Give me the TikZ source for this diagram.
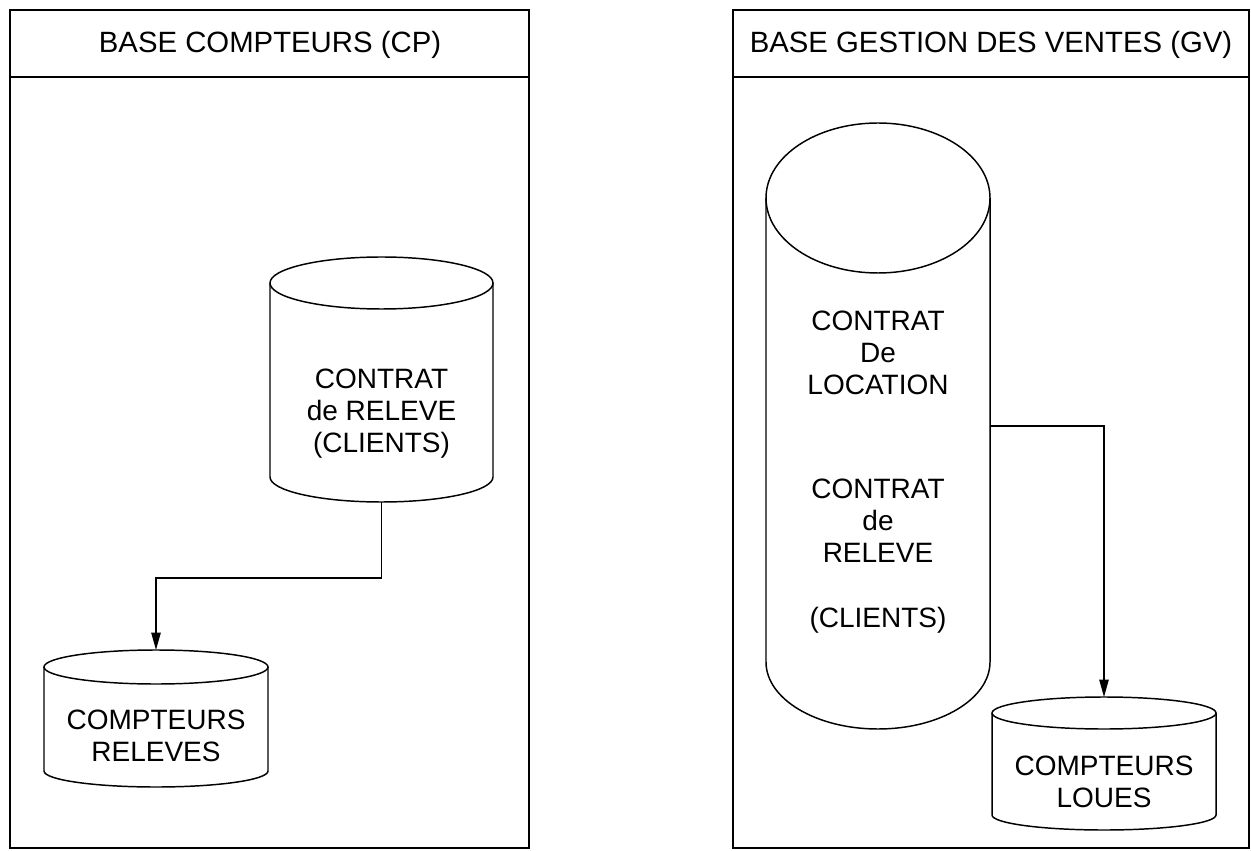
\documentclass[tikz,border=0pt]{standalone}
\usepackage{fontspec}
\setmainfont{Liberation Sans}
\usetikzlibrary{arrows.meta,fit}

% Database cylinder drawn round a fitted node:
% #1 node name, #2 x radius, #3 top cap y radius, #4 bottom cap y radius
\newcommand\dbshape[4]{%
  \draw ([yshift=-#3*0.75pt]#1.north) ellipse [x radius=#2, y radius=#3];
  \draw ([yshift=-#3*0.75pt]#1.north west) -- ([yshift=#4*0.75pt]#1.south west)
    arc [start angle=180, end angle=360, x radius=#2, y radius=#4]
    -- ([yshift=-#3*0.75pt]#1.north east);
}

\begin{document}
\begin{tikzpicture}[x=0.75pt, y=0.75pt, line width=1.1pt,
  panel/.style={draw, line width=1.1pt},
  dbbox/.style={inner sep=0pt, outer sep=0pt},
  title/.style={font=\fontsize{22}{26}\selectfont, inner sep=0pt},
  dblabel/.style={font=\fontsize{21}{24}\selectfont, align=center, inner sep=0pt},
  flow/.style={-{Triangle[length=13pt, width=7pt]}, line width=1.1pt}]
\useasboundingbox (0,0) rectangle (1251,850);

% ---- Panel: BASE COMPTEURS (CP)
\node[panel, fit={(10,2) (529,840)}, inner sep=0pt] (pcp) {};
\draw (pcp.west |- 0,773) -- (pcp.east |- 0,773);
\node[title] (tcp) at (270,805) {BASE COMPTEURS (CP)};

% ---- Panel: BASE GESTION DES VENTES (GV)
\node[panel, fit={(733,2) (1249,840)}, inner sep=0pt] (pgv) {};
\draw (pgv.west |- 0,773) -- (pgv.east |- 0,773);
\node[title] (tgv) at (991,805) {BASE GESTION DES VENTES (GV)};

% ---- Cylinders
\node[dbbox, fit={(270,348) (493,593)}] (cp) {};
\dbshape{cp}{111.5}{26}{25}
\node[dblabel] (lcp) at (381.5,436) {CONTRAT\\de RELEVE\\(CLIENTS)};

\node[dbbox, fit={(44,63) (268,200)}] (cr) {};
\dbshape{cr}{112}{17}{16}
\node[dblabel] (lcr) at (156,114) {COMPTEURS\\RELEVES};

\node[dbbox, fit={(766,121) (990,727)}] (gv) {};
\dbshape{gv}{112}{75}{67}
\node[dblabel] (lgv1) at (878,497) {CONTRAT\\De\\LOCATION};
\node[dblabel] (lgv2) at (878,329) {CONTRAT\\de\\RELEVE};
\node[dblabel] (lgv3) at (878,230) {(CLIENTS)};

\node[dbbox, fit={(992,20) (1216,153)}] (cl) {};
\dbshape{cl}{112}{16}{15}
\node[dblabel] (lcl) at (1104,68.5) {COMPTEURS\\LOUES};

% ---- Connectors
\draw[flow] (cp.south) -- (cp.south |- 0,272) -| (cr.north);
\draw[flow] (gv.east |- 0,424) -| (cl.north);
\end{tikzpicture}
\end{document}
